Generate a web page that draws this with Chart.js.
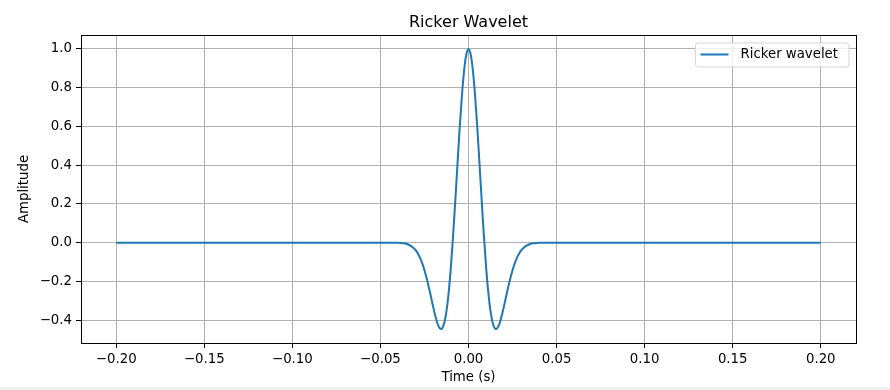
<!DOCTYPE html>
<html>
<head>
<meta charset="utf-8">
<script src="https://cdn.jsdelivr.net/npm/chart.js@4/dist/chart.umd.min.js"></script>
<style>
  html, body { margin: 0; padding: 0; background: #fff; overflow: hidden; }
  #wrap { position: relative; width: 890px; height: 390px; }
  #strip { position: absolute; left: 0; top: 387px; width: 890px; height: 3px; background: #f0f0f0; }
</style>
</head>
<body>
<div id="wrap">
  <canvas id="c" width="890" height="390"></canvas>
  <div id="strip"></div>
</div>
<script>
// ---- data ----
const chartTitle = "Ricker Wavelet";
const seriesLabel = "Ricker wavelet";
const xTitle = "Time (s)";
const yTitle = "Amplitude";

const times = [
  -0.2, -0.05, -0.045, -0.04, -0.0375, -0.035, -0.0325, -0.03,
  -0.02875, -0.0275, -0.02625, -0.025, -0.02375, -0.0225, -0.02125, -0.02,
  -0.01875, -0.0175, -0.01625, -0.0155, -0.015, -0.01375, -0.0125, -0.01125, -0.01,
  -0.00875, -0.0075, -0.00625, -0.005, -0.00375, -0.0025, -0.00125,
  0,
  0.00125, 0.0025, 0.00375, 0.005, 0.00625, 0.0075, 0.00875,
  0.01, 0.01125, 0.0125, 0.01375, 0.015, 0.0155, 0.01625, 0.0175, 0.01875,
  0.02, 0.02125, 0.0225, 0.02375, 0.025, 0.02625, 0.0275, 0.02875,
  0.03, 0.0325, 0.035, 0.0375, 0.04, 0.045, 0.05, 0.2
];
const amplitude = [
  0, 0, 0, -0.001, -0.003, -0.007, -0.018, -0.039,
  -0.056, -0.079, -0.107, -0.142, -0.184, -0.231, -0.282, -0.334,
  -0.381, -0.420, -0.443, -0.446, -0.443, -0.415, -0.354, -0.257, -0.126,
  0.035, 0.216, 0.407, 0.593, 0.758, 0.888, 0.971,
  1.0,
  0.971, 0.888, 0.758, 0.593, 0.407, 0.216, 0.035,
  -0.126, -0.257, -0.354, -0.415, -0.443, -0.446, -0.443, -0.420, -0.381,
  -0.334, -0.282, -0.231, -0.184, -0.142, -0.107, -0.079, -0.056,
  -0.039, -0.018, -0.007, -0.003, -0.001, 0, 0, 0
];

const xTicks = [-0.2, -0.15, -0.1, -0.05, 0, 0.05, 0.1, 0.15, 0.2];
const yTicks = [-0.4, -0.2, 0.0, 0.2, 0.4, 0.6, 0.8, 1.0];
const xRange = [-0.22, 0.22];
const yRange = [-0.518, 1.072];

// ---- chart ----
const FONT = "'DejaVu Sans', sans-serif";
const fmt = (v, d) => {
  const s = Math.abs(v) < 1e-9 ? (0).toFixed(d) : v.toFixed(d);
  return s.replace('-', '\u2212');
};

const framePlugin = {
  id: 'frame',
  afterDraw(chart) {
    const { ctx, chartArea: a } = chart;
    ctx.save();
    ctx.strokeStyle = '#000';
    ctx.lineWidth = 1;
    ctx.strokeRect(Math.round(a.left) + 0.5, Math.round(a.top) + 0.5,
                   Math.round(a.right - a.left), Math.round(a.bottom - a.top));
    // title centred over the plot area
    ctx.fillStyle = '#000';
    ctx.font = "16px " + FONT;
    ctx.textAlign = 'center';
    ctx.textBaseline = 'alphabetic';
    ctx.fillText(chartTitle, (a.left + a.right) / 2, a.top - 8);
    // legend (upper right, matplotlib style)
    const ds = chart.data.datasets[0];
    ctx.font = "13.3px " + FONT;
    const tw = ctx.measureText(ds.label).width;
    const bw = tw + 56, bh = 24;
    const bx = a.right - 7 - bw, by = a.top + 8;
    const r = 3;
    ctx.beginPath();
    ctx.moveTo(bx + r, by);
    ctx.lineTo(bx + bw - r, by);
    ctx.arcTo(bx + bw, by, bx + bw, by + r, r);
    ctx.lineTo(bx + bw, by + bh - r);
    ctx.arcTo(bx + bw, by + bh, bx + bw - r, by + bh, r);
    ctx.lineTo(bx + r, by + bh);
    ctx.arcTo(bx, by + bh, bx, by + bh - r, r);
    ctx.lineTo(bx, by + r);
    ctx.arcTo(bx, by, bx + r, by, r);
    ctx.closePath();
    ctx.fillStyle = 'rgba(255,255,255,0.8)';
    ctx.fill();
    ctx.strokeStyle = '#d6d6d6';
    ctx.lineWidth = 1;
    ctx.stroke();
    ctx.beginPath();
    ctx.strokeStyle = ds.borderColor;
    ctx.lineWidth = 2;
    ctx.moveTo(bx + 5, by + bh / 2 - 0.5);
    ctx.lineTo(bx + 33, by + bh / 2 - 0.5);
    ctx.stroke();
    ctx.fillStyle = '#000';
    ctx.textBaseline = 'middle';
    ctx.textAlign = 'left';
    ctx.fillText(ds.label, bx + 45, by + bh / 2);
    ctx.restore();
  }
};

new Chart(document.getElementById('c'), {
  type: 'line',
  data: {
    datasets: [{
      label: seriesLabel,
      data: times.map((t, i) => ({ x: t, y: amplitude[i] })),
      borderColor: '#1f77b4',
      borderWidth: 2,
      pointRadius: 0,
      fill: false,
      cubicInterpolationMode: 'monotone'
    }]
  },
  options: {
    responsive: false,
    animation: false,
    events: [],
    layout: { padding: { left: 0, right: 34, top: 35, bottom: 0 } },
    plugins: {
      legend: { display: false },
      tooltip: { enabled: false },
      title: { display: false }
    },
    scales: {
      x: {
        type: 'linear',
        min: xRange[0], max: xRange[1],
        afterBuildTicks: s => { s.ticks = xTicks.map(v => ({ value: v })); },
        afterFit: s => { s.height = 47; },
        grid: { color: '#b0b0b0', lineWidth: 1, tickColor: '#000', tickLength: 5, drawOnChartArea: true },
        border: { display: true, color: '#000', width: 1 },
        ticks: {
          color: '#000', padding: 4, maxRotation: 0, autoSkip: false,
          font: { family: FONT, size: 13.3 },
          callback: v => fmt(v, 2)
        },
        title: {
          display: true, text: xTitle, color: '#000',
          font: { family: FONT, size: 13.3 }, padding: { top: 2, bottom: 4 }
        }
      },
      y: {
        type: 'linear',
        min: yRange[0], max: yRange[1],
        afterBuildTicks: s => { s.ticks = yTicks.map(v => ({ value: v })); },
        afterFit: s => { s.width = 81; },
        grid: { color: '#b0b0b0', lineWidth: 1, tickColor: '#000', tickLength: 5 },
        border: { display: true, color: '#000', width: 1 },
        ticks: {
          color: '#000', padding: 4, autoSkip: false,
          font: { family: FONT, size: 13.3 },
          callback: v => fmt(v, 1)
        },
        title: {
          display: true, text: yTitle, color: '#000',
          font: { family: FONT, size: 13.3 }, padding: { top: 16.5, bottom: 0 }
        }
      }
    }
  },
  plugins: [framePlugin]
});
</script>
</body>
</html>
